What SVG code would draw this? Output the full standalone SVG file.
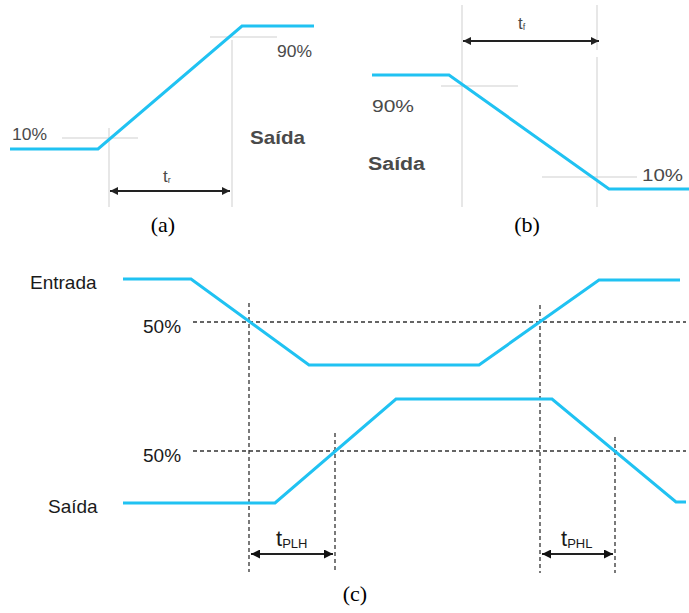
<svg xmlns="http://www.w3.org/2000/svg" width="689" height="613" viewBox="0 0 689 613">
<defs>
<style>
.wave{fill:none;stroke:#20C2F2;stroke-width:3;stroke-linejoin:miter}
.guide{fill:none;stroke:#cfcfcf;stroke-width:1}
.dash{fill:none;stroke:#333;stroke-width:1.3;stroke-dasharray:4 3}
.dim{fill:none;stroke:#222;stroke-width:2}
.lblg{font-family:"Liberation Sans",Arial,sans-serif;fill:#4a4a4a}
.lbl{font-family:"Liberation Sans",Arial,sans-serif;fill:#1a1a1a}
.cap{font-family:"Liberation Serif","Times New Roman",serif;font-size:22px;fill:#000;text-anchor:middle}
</style>
<marker id="ah" viewBox="0 0 10 10" refX="10" refY="5" markerWidth="9" markerHeight="8" markerUnits="userSpaceOnUse" orient="auto-start-reverse">
<path d="M0,0 L10,5 L0,10 z" fill="#222"/>
</marker>
<marker id="ah2" viewBox="0 0 10 10" refX="10" refY="5" markerWidth="10" markerHeight="9" markerUnits="userSpaceOnUse" orient="auto-start-reverse">
<path d="M0,0 L10,5 L0,10 z" fill="#111"/>
</marker>
</defs>

<!-- Panel (a) -->
<g id="panel-a">
<g id="a-guides">
<line class="guide" x1="62" y1="138" x2="138" y2="138"/>
<line class="guide" x1="210" y1="37" x2="277" y2="37"/>
<line class="guide" x1="109" y1="128" x2="109" y2="207"/>
<line class="guide" x1="232" y1="40" x2="232" y2="207"/>
</g>
<polyline id="a-wave" class="wave" points="10,149 98,149 242,26 314,26"/>
<line id="a-tr" class="dim" x1="110" y1="191" x2="230" y2="191" marker-start="url(#ah)" marker-end="url(#ah)"/>
<text class="lblg" x="163" y="182" font-size="17">t<tspan font-size="9" dy="1">r</tspan></text>
<text class="lblg" x="12" y="140" font-size="16" textLength="35" lengthAdjust="spacingAndGlyphs">10%</text>
<text class="lblg" x="277" y="57" font-size="16" textLength="35" lengthAdjust="spacingAndGlyphs">90%</text>
<text class="lblg" x="250" y="144" font-size="19" font-weight="bold" textLength="55" lengthAdjust="spacingAndGlyphs" fill="#3a3a3a">Saída</text>
<text class="cap" x="163" y="232">(a)</text>
</g>

<!-- Panel (b) -->
<g id="panel-b">
<g id="b-guides">
<line class="guide" x1="441" y1="86" x2="518" y2="86"/>
<line class="guide" x1="542" y1="177" x2="637" y2="177"/>
<line class="guide" x1="462" y1="5" x2="462" y2="207"/>
<line class="guide" x1="597" y1="5" x2="597" y2="50"/>
<line class="guide" x1="597" y1="57" x2="597" y2="207"/>
</g>
<polyline id="b-wave" class="wave" points="372,75 449,75 609,189 689,189"/>
<line id="b-tf" class="dim" x1="463" y1="41" x2="599" y2="41" marker-start="url(#ah)" marker-end="url(#ah)"/>
<text class="lblg" x="518" y="29" font-size="17">t<tspan font-size="9" dy="1">f</tspan></text>
<text class="lblg" x="372" y="112" font-size="17" textLength="42" lengthAdjust="spacingAndGlyphs">90%</text>
<text class="lblg" x="368" y="170" font-size="18" font-weight="bold" textLength="57" lengthAdjust="spacingAndGlyphs" fill="#3a3a3a">Saída</text>
<text class="lblg" x="642" y="181" font-size="17" textLength="41" lengthAdjust="spacingAndGlyphs">10%</text>
<text class="cap" x="527" y="232">(b)</text>
</g>

<!-- Panel (c) -->
<g id="panel-c">
<g id="c-dashes">
<line class="dash" x1="193" y1="322" x2="686" y2="322"/>
<line class="dash" x1="193" y1="451" x2="686" y2="451"/>
<line class="dash" x1="249" y1="303" x2="249" y2="572"/>
<line class="dash" x1="335" y1="433" x2="335" y2="572"/>
<line class="dash" x1="540" y1="305" x2="540" y2="573"/>
<line class="dash" x1="615" y1="437" x2="615" y2="573"/>
</g>
<g id="entrada">
<polyline class="wave" points="123,279 191,279 309,365 479,365 599,280 680,280"/>
<text class="lbl" x="30" y="289" font-size="19">Entrada</text>
</g>
<g id="saida">
<polyline class="wave" points="123,503 275,503 396,399 552,399 676,502 686,502"/>
<text class="lbl" x="48" y="513" font-size="19">Saída</text>
</g>
<text class="lbl" x="143" y="333" font-size="19">50%</text>
<text class="lbl" x="143" y="462" font-size="19">50%</text>
<g id="tplh">
<line class="dim" x1="251" y1="554" x2="333" y2="554" marker-start="url(#ah2)" marker-end="url(#ah2)"/>
<text class="lbl" x="276" y="546" font-size="22">t<tspan font-size="13" dy="2">PLH</tspan></text>
</g>
<g id="tphl">
<line class="dim" x1="542" y1="554" x2="613" y2="554" marker-start="url(#ah2)" marker-end="url(#ah2)"/>
<text class="lbl" x="561" y="546" font-size="22">t<tspan font-size="13" dy="2">PHL</tspan></text>
</g>
<text class="cap" x="355" y="601">(c)</text>
</g>
</svg>
